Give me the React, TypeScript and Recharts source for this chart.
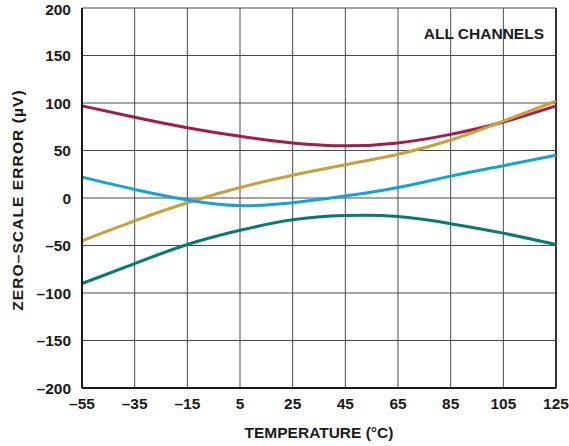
import { LineChart, Line, XAxis, YAxis, CartesianGrid, ReferenceLine } from 'recharts';

const temperatures = [-55, -35, -15, 5, 25, 45, 65, 85, 105, 125];
const channelRed = [97, 85, 74, 65, 58, 55, 58, 67, 80, 97];
const channelGold = [-45, -24, -5, 11, 24, 35, 46, 61, 81, 102];
const channelBlue = [22, 9, -2, -8, -5, 2, 11, 23, 34, 45];
const channelTeal = [-90, -69, -49, -34, -23, -18.5, -19.5, -27, -37, -49];

const xTicks = [-55, -35, -15, 5, 25, 45, 65, 85, 105, 125];
const yTicks = [-200, -150, -100, -50, 0, 50, 100, 150, 200];

const data = temperatures.map((t, i) => ({
  t,
  red: channelRed[i],
  gold: channelGold[i],
  blue: channelBlue[i],
  teal: channelTeal[i],
}));

const FONT = '"Liberation Sans", Arial, Helvetica, sans-serif';
const tickStyle = { fontSize: 15.5, fontWeight: 700, fill: '#1a1a1a', fontFamily: FONT };
const dash = (v: number) => String(v).replace('-', '\u2013');

export default function App() {
  return (
    <div style={{ position: 'absolute', left: 0, top: 0, width: 569, height: 446, background: '#fff' }}>
      <LineChart width={569} height={446} data={data} margin={{ top: 8, right: 13, bottom: 18, left: 10 }}>
        <CartesianGrid stroke="#4a4a4a" strokeWidth={1} />
        <XAxis
          dataKey="t"
          type="number"
          domain={[-55, 125]}
          ticks={xTicks}
          tickFormatter={dash}
          tick={tickStyle}
          tickLine={false}
          tickSize={0}
          tickMargin={10}
          height={40}
          axisLine={{ stroke: '#1a1a1a', strokeWidth: 2 }}
        />
        <YAxis
          type="number"
          domain={[-200, 200]}
          ticks={yTicks}
          tickFormatter={dash}
          tick={tickStyle}
          tickLine={false}
          tickSize={0}
          tickMargin={11}
          width={72}
          axisLine={{ stroke: '#1a1a1a', strokeWidth: 2 }}
        />
        <ReferenceLine x={125} stroke="#333" strokeWidth={2} />
        <Line type="natural" dataKey="red" stroke="#a51c47" strokeWidth={3} dot={false} isAnimationActive={false} />
        <Line type="natural" dataKey="gold" stroke="#c9a03a" strokeWidth={3} dot={false} isAnimationActive={false} />
        <Line type="natural" dataKey="blue" stroke="#15a2d8" strokeWidth={3} dot={false} isAnimationActive={false} />
        <Line type="natural" dataKey="teal" stroke="#087a72" strokeWidth={3} dot={false} isAnimationActive={false} />
        <text x={544} y={39} textAnchor="end" style={tickStyle}>
          ALL CHANNELS
        </text>
        <text x={319} y={438} textAnchor="middle" style={tickStyle}>
          TEMPERATURE (°C)
        </text>
        <text
          x={23}
          y={200}
          textAnchor="middle"
          transform="rotate(-90 23 200)"
          style={{ ...tickStyle, letterSpacing: 1.1 }}
        >
          ZERO–SCALE ERROR (µV)
        </text>
      </LineChart>
    </div>
  );
}
